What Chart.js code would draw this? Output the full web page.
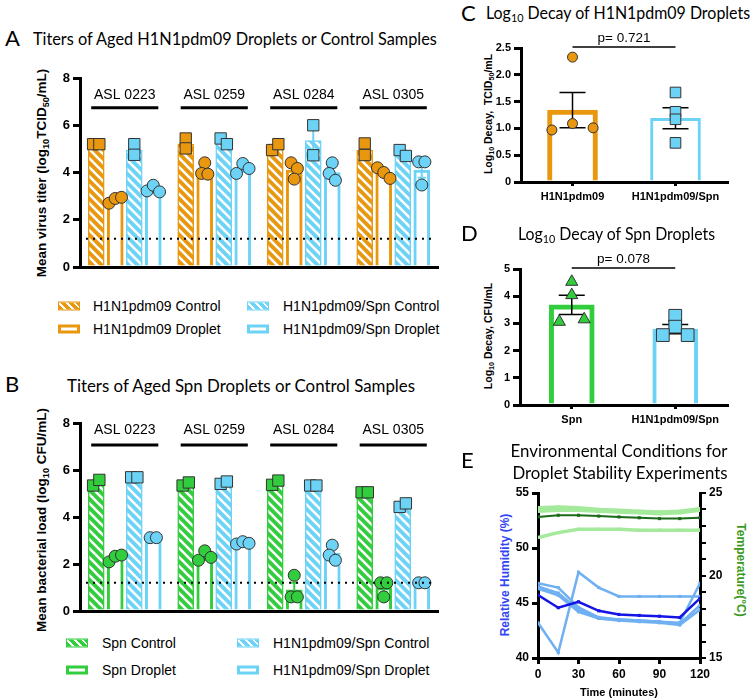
<!DOCTYPE html>
<html>
<head>
<meta charset="utf-8">
<script src="https://cdn.jsdelivr.net/npm/chart.js@4.4.1/dist/chart.umd.min.js"></script>
<style>
  body { margin: 0; background: #fff; }
  #fig { position: relative; width: 756px; height: 700px; overflow: hidden; font-family: "Liberation Sans", Arial, sans-serif; color: #000; }
  canvas { position: absolute; }
  .t { position: absolute; white-space: nowrap; line-height: 1; transform: translateY(-50%); transform-origin: left center; }
  .ttl { font-family: Lato, "Open Sans", sans-serif; font-size: 17px; }
  .lab { font-family: Lato, "Open Sans", sans-serif; font-size: 22px; }
  .ctr { transform: translate(-50%, -50%); transform-origin: center center; }
  .rot { position: absolute; white-space: nowrap; line-height: 1; font-weight: bold; transform: translate(-50%, -50%) rotate(-90deg); }
  .rot90 { transform: translate(-50%, -50%) rotate(90deg); }
  .leg { font-size: 14px; }
  .sw { position: absolute; width: 22px; height: 9px; box-sizing: border-box; transform: translateY(-50%); }
  sub { font-size: 0.68em; vertical-align: -0.3em; line-height: 0; }
</style>
</head>
<body>
<div id="fig">
  <div class="t lab" style="left:5px;top:38px">A</div>
  <div class="t ttl fit" data-w="404" style="left:33px;top:38px">Titers of Aged H1N1pdm09 Droplets or Control Samples</div>
  <div class="rot" style="left:42px;top:173px;font-size:13.5px">Mean virus titer (log<sub>10</sub>TCID<sub>50</sub>/mL)</div>
  <canvas id="chartA" width="450" height="218" style="left:0;top:60px"></canvas>

  <div class="sw" id="swA1" style="left:58px;top:306px"></div>
  <div class="t leg" style="left:93px;top:306px">H1N1pdm09 Control</div>
  <div class="sw" id="swA2" style="left:58px;top:329px"></div>
  <div class="t leg" style="left:93px;top:329px">H1N1pdm09 Droplet</div>
  <div class="sw" id="swA3" style="left:247px;top:306px"></div>
  <div class="t leg" style="left:283px;top:306px">H1N1pdm09/Spn Control</div>
  <div class="sw" id="swA4" style="left:247px;top:329px"></div>
  <div class="t leg" style="left:283px;top:329px">H1N1pdm09/Spn Droplet</div>

  <div class="t lab" style="left:5px;top:384px">B</div>
  <div class="t ttl fit" data-w="348" style="left:67px;top:385px">Titers of Aged Spn Droplets or Control Samples</div>
  <div class="rot" style="left:42px;top:520px;font-size:13.5px">Mean bacterial load (log<sub>10</sub> CFU/mL)</div>
  <canvas id="chartB" width="450" height="217" style="left:0;top:405px"></canvas>

  <div class="sw" id="swB1" style="left:66px;top:643px"></div>
  <div class="t leg" style="left:102px;top:643px">Spn Control</div>
  <div class="sw" id="swB2" style="left:66px;top:670px"></div>
  <div class="t leg" style="left:102px;top:670px">Spn Droplet</div>
  <div class="sw" id="swB3" style="left:237px;top:643px"></div>
  <div class="t leg" style="left:273px;top:643px">H1N1pdm09/Spn Control</div>
  <div class="sw" id="swB4" style="left:237px;top:670px"></div>
  <div class="t leg" style="left:273px;top:670px">H1N1pdm09/Spn Droplet</div>

  <div class="t lab" style="left:461px;top:13px">C</div>
  <div class="t ttl fit" data-w="264" style="left:486px;top:12px">Log<sub>10</sub> Decay of H1N1pdm09 Droplets</div>
  <div class="rot" style="left:488px;top:114px;font-size:10.5px">Log<sub>10</sub> Decay,&nbsp; TCID<sub>50</sub>/mL</div>
  <canvas id="chartC" width="292" height="195" style="left:455px;top:25px"></canvas>

  <div class="t lab" style="left:461px;top:233px">D</div>
  <div class="t ttl fit" data-w="197" style="left:518px;top:233px">Log<sub>10</sub> Decay of Spn Droplets</div>
  <div class="rot" style="left:488px;top:336px;font-size:10.5px">Log<sub>10</sub> Decay, CFU/mL</div>
  <canvas id="chartD" width="292" height="197" style="left:455px;top:248px"></canvas>

  <div class="t lab" style="left:461px;top:460px">E</div>
  <div class="t ttl ctr fit" data-w="217" style="left:619px;top:450px">Environmental Conditions for</div>
  <div class="t ttl ctr fit" data-w="215" style="left:620px;top:472px">Droplet Stability Experiments</div>
  <div class="rot" style="left:505px;top:575px;font-size:12px;color:#3346f5">Relative Humidity (%)</div>
  <div class="rot rot90" style="left:741px;top:570px;font-size:12px;color:#3c9a23">Temperature(°C)</div>
  <canvas id="chartE" width="300" height="220" style="left:455px;top:480px"></canvas>
</div>

<script>
// ---- data ----
const groupLabels = ["ASL 0223", "ASL 0259", "ASL 0284", "ASL 0305"];
const detectionLimit = 1.2;

// panel A: H1N1pdm09 titers (log10 TCID50/mL)
const fluCtrlMeanA = [5.2, 5.2, 5.05, 4.95];
const fluDropMeanA = [2.85, 4.1, 4.1, 4.0];
const coCtrlMeanA = [4.95, 5.3, 5.35, 4.8];
const coDropMeanA = [3.3, 4.15, 4.0, 4.1];
const fluCtrlA = [[5.2, 5.2], [5.44, 5.02], [4.95, 5.2], [5.23, 4.74]];
const fluDropA = [[2.7, 2.9, 2.95], [4.41, 3.96, 3.93], [4.41, 4.17, 3.72], [4.2, 4.0, 3.75]];
const coCtrlA = [[5.2, 4.75], [5.44, 5.2], [6.0, 4.73], [4.95, 4.7]];
const coDropA = [[3.22, 3.46, 3.18], [3.96, 4.38, 4.17], [4.41, 3.96, 3.67], [4.45, 4.45, 3.47]];

// panel B: Spn loads (log10 CFU/mL)
const spnCtrlMeanB = [5.45, 5.4, 5.45, 5.05];
const spnDropMeanB = [2.25, 2.3, 0.9, 1.0];
const coCtrlMeanB = [5.69, 5.45, 5.34, 4.5];
const coDropMeanB = [3.1, 2.9, 2.45, 1.2];
const spnCtrlB = [[5.34, 5.58], [5.34, 5.47], [5.37, 5.55], [5.05, 5.05]];
const spnDropB = [[2.09, 2.33, 2.38], [2.16, 2.56, 2.28], [1.52, 0.6, 0.6], [1.2, 1.2, 0.6]];
const coCtrlB = [[5.69, 5.69], [5.41, 5.51], [5.34, 5.34], [4.43, 4.58]];
const coDropB = [[3.12, 3.12], [2.85, 2.95, 2.88], [2.8, 2.38, 2.16], [1.2, 1.2]];

// panel C
const decayCatsC = ["H1N1pdm09", "H1N1pdm09/Spn"];
const decayMeanC = [1.34, 1.19];
const decayFluC = [2.33, 0.97, 1.09, 1.01];
const decayCoC = [1.67, 1.31, 1.17, 0.73];
const pValueC = "p= 0.721";

// panel D
const decayCatsD = ["Spn", "H1N1pdm09/Spn"];
const decayMeanD = [3.68, 2.79];
const decaySpnD = [4.53, 4.04, 3.06, 3.15];
const decayCoD = [3.28, 2.88, 2.57, 2.57];
const pValueD = "p= 0.078";

// panel E
const timeMin = [0, 15, 30, 45, 60, 75, 90, 105, 120];
const humidityMean = [45.72, 44.57, 45.11, 44.29, 43.96, 43.87, 43.8, 43.68, 45.42];
const humidityRuns = [
  [43.2, 40.5, 47.8, 46.4, 45.6, 45.6, 45.6, 45.6, 45.6],
  [46.8, 46.4, 44.6, 43.7, 43.5, 43.4, 43.3, 43.2, 46.8],
  [46.5, 45.9, 44.4, 43.6, 43.5, 43.4, 43.3, 43.1, 44.8],
  [46.3, 45.7, 44.2, 43.6, 43.4, 43.3, 43.2, 43.0, 44.4]
];
const tempMean = [23.55, 23.65, 23.65, 23.6, 23.55, 23.5, 23.45, 23.45, 23.5];
const tempRuns = [
  [22.3, 22.6, 22.8, 22.8, 22.8, 22.75, 22.75, 22.75, 22.75],
  [24.1, 24.15, 24.1, 24.0, 23.95, 23.9, 23.85, 23.9, 24.05],
  [24.0, 24.05, 24.0, 23.95, 23.9, 23.85, 23.8, 23.85, 24.0],
  [23.9, 23.95, 23.95, 23.9, 23.85, 23.8, 23.75, 23.8, 23.95]
];

// ---- style ----
const ORANGE = "#E8970E";
const CYAN = "#6DD3F6";
const GREEN = "#32CD3C";
const EDGE = "#333";

Chart.defaults.font.family = "'Liberation Sans', Arial, sans-serif";
Chart.defaults.color = "#000";
Chart.defaults.animation = false;
Chart.defaults.plugins.legend.display = false;
Chart.defaults.plugins.tooltip.enabled = false;

function hatch(color) {
  const s = 9;
  const c = document.createElement("canvas");
  c.width = s; c.height = s;
  const g = c.getContext("2d");
  g.fillStyle = color;
  g.fillRect(0, 0, s, s);
  g.strokeStyle = "#fff";
  g.lineWidth = 2.6;
  g.beginPath();
  for (const k of [-s, 0, s]) {
    g.moveTo(k - 1, -1);
    g.lineTo(k + s + 1, s + 1);
  }
  g.stroke();
  return g.createPattern(c, "repeat");
}

function swatch(id, color, hatched) {
  const el = document.getElementById(id);
  if (hatched) {
    el.style.border = `1.5px solid ${color}`;
    el.style.background = `repeating-linear-gradient(45deg, ${color} 0 3.5px, #fff 3.5px 5.5px)`;
  } else {
    el.style.border = `3px solid ${color}`;
    el.style.background = "#fff";
  }
}

// spread replicates that sit at almost the same height
function spread(vals, tol) {
  const order = vals.map((v, i) => i).sort((a, b) => vals[a] - vals[b]);
  const cluster = [];
  let c = 0;
  order.forEach((idx, k) => {
    if (k > 0 && vals[idx] - vals[order[k - 1]] >= tol) c++;
    cluster[idx] = c;
  });
  return vals.map((v, i) => {
    const members = vals.map((_, j) => j).filter((j) => cluster[j] === cluster[i]);
    return members.indexOf(i) - (members.length - 1) / 2;
  });
}

// slot of bar j inside group g, in x-axis units
function slot(g, j, nBars, catPct) {
  return g + (j - (nBars - 1) / 2) * catPct / nBars;
}

function pointsFor(reps, j, nBars, catPct, step, tol) {
  const pts = [];
  reps.forEach((vals, g) => {
    const offs = spread(vals, tol);
    vals.forEach((v, k) => pts.push({ x: slot(g, j, nBars, catPct) + offs[k] * step, y: v }));
  });
  return pts;
}

function barsFor(means, j, nBars, catPct) {
  return means.map((m, g) => ({ x: slot(g, j, nBars, catPct), y: m }));
}

function sem(vals) {
  const n = vals.length;
  const avg = vals.reduce((a, b) => a + b, 0) / n;
  const sd = Math.sqrt(vals.reduce((a, b) => a + (b - avg) ** 2, 0) / (n - 1));
  return sd / Math.sqrt(n);
}

const errorBars = {
  id: "errorBars",
  afterDatasetDraw(chart, args) {
    const ds = chart.data.datasets[args.index];
    if (!ds.reps) return;
    const ctx = chart.ctx;
    const y = chart.scales.y;
    args.meta.data.forEach((bar, i) => {
      const m = ds.data[i].y;
      const e = sem(ds.reps[i]);
      const top = y.getPixelForValue(m + e);
      const bot = y.getPixelForValue(m - e);
      const cap = ds.errCap;
      ctx.save();
      ctx.strokeStyle = ds.errColor;
      ctx.lineWidth = ds.errWidth;
      ctx.beginPath();
      ctx.moveTo(bar.x, top); ctx.lineTo(bar.x, bot);
      ctx.moveTo(bar.x - cap, top); ctx.lineTo(bar.x + cap, top);
      ctx.moveTo(bar.x - cap, bot); ctx.lineTo(bar.x + cap, bot);
      ctx.stroke();
      ctx.restore();
    });
  }
};

const groupMarks = {
  id: "groupMarks",
  afterDatasetsDraw(chart, args, opts) {
    if (!opts || !opts.labels) return;
    const ctx = chart.ctx;
    const x = chart.scales.x;
    const y = chart.scales.y;
    const area = chart.chartArea;
    ctx.save();
    // limit of detection
    ctx.strokeStyle = "#000";
    ctx.lineWidth = 2;
    ctx.setLineDash([2, 5]);
    ctx.beginPath();
    ctx.moveTo(area.left + 6, y.getPixelForValue(opts.limit));
    ctx.lineTo(area.right - 6, y.getPixelForValue(opts.limit));
    ctx.stroke();
    ctx.setLineDash([]);
    // group labels with bars
    ctx.font = "14px 'Liberation Sans', Arial, sans-serif";
    ctx.fillStyle = "#000";
    ctx.textAlign = "center";
    ctx.textBaseline = "middle";
    ctx.lineWidth = 3;
    opts.labels.forEach((lab, i) => {
      ctx.fillText(lab, x.getPixelForValue(i), y.getPixelForValue(opts.labelAt));
      const ly = y.getPixelForValue(opts.lineAt);
      ctx.beginPath();
      ctx.moveTo(x.getPixelForValue(i - 0.375), ly);
      ctx.lineTo(x.getPixelForValue(i + 0.375), ly);
      ctx.stroke();
    });
    ctx.restore();
  }
};

const bracket = {
  id: "bracket",
  afterDraw(chart, args, opts) {
    if (!opts || !opts.text) return;
    const ctx = chart.ctx;
    const x = chart.scales.x;
    const y = chart.scales.y;
    const x0 = x.getPixelForValue(0);
    const x1 = x.getPixelForValue(1);
    const yy = y.getPixelForValue(y.max) - 1;
    ctx.save();
    ctx.strokeStyle = "#000";
    ctx.lineWidth = 1.5;
    ctx.beginPath();
    ctx.moveTo(x0, yy); ctx.lineTo(x1, yy);
    ctx.stroke();
    ctx.font = "13.5px 'Liberation Sans', Arial, sans-serif";
    ctx.fillStyle = "#000";
    ctx.textAlign = "center";
    ctx.textBaseline = "bottom";
    ctx.fillText(opts.text, (x0 + x1) / 2, yy - 2);
    ctx.restore();
  }
};

function yAxis(max, step, width, size) {
  return {
    min: 0, max: max,
    ticks: { stepSize: step, font: { size: size, weight: "bold" }, color: "#000", padding: 3 },
    grid: { display: true, drawOnChartArea: false, drawTicks: true, tickLength: 7, lineWidth: 3, color: "#000" },
    border: { display: true, width: 3, color: "#000" },
    afterFit(s) { s.width = width; }
  };
}

function groupChart(id, series, marks, pad) {
  const catPct = 0.85;
  const nb = series.length;
  const datasets = [];
  series.forEach((s, j) => {
    datasets.push({
      type: "bar",
      label: s.label,
      data: barsFor(s.means, j, nb, catPct),
      reps: s.reps,
      grouped: false,
      backgroundColor: s.hatched ? hatch(s.color) : "#fff",
      borderColor: s.color,
      borderWidth: s.hatched ? 1.5 : 3,
      errColor: s.color, errWidth: 2, errCap: 4,
      categoryPercentage: 1,
      barPercentage: 1,
      maxBarThickness: 16,
      order: 2
    });
  });
  series.forEach((s, j) => {
    datasets.push({
      type: "scatter",
      label: s.label,
      data: pointsFor(s.reps, j, nb, catPct, 0.07, 0.3),
      pointStyle: s.hatched ? "rect" : "circle",
      pointRadius: s.hatched ? 8 : 6,
      pointBackgroundColor: s.color,
      pointBorderColor: EDGE,
      pointBorderWidth: 1,
      order: 1
    });
  });
  return new Chart(document.getElementById(id), {
    type: "bar",
    data: { datasets: datasets },
    options: {
      responsive: false,
      layout: { padding: pad },
      plugins: { groupMarks: marks },
      scales: {
        x: {
          type: "linear", min: -0.5, max: 3.5, offset: false,
          ticks: { display: false },
          grid: { display: false, offset: false },
          border: { display: true, width: 3, color: "#000" },
          afterFit(s) { s.height = 0; }
        },
        y: yAxis(8, 2, 80, 13)
      }
    },
    plugins: [errorBars, groupMarks]
  });
}

groupChart("chartA", [
  { label: "H1N1pdm09 Control", means: fluCtrlMeanA, reps: fluCtrlA, color: ORANGE, hatched: true },
  { label: "H1N1pdm09 Droplet", means: fluDropMeanA, reps: fluDropA, color: ORANGE, hatched: false },
  { label: "H1N1pdm09/Spn Control", means: coCtrlMeanA, reps: coCtrlA, color: CYAN, hatched: true },
  { label: "H1N1pdm09/Spn Droplet", means: coDropMeanA, reps: coDropA, color: CYAN, hatched: false }
], { labels: groupLabels, labelAt: 7.28, lineAt: 6.74, limit: detectionLimit }, { top: 18, right: 12, bottom: 11, left: 0 });

groupChart("chartB", [
  { label: "Spn Control", means: spnCtrlMeanB, reps: spnCtrlB, color: GREEN, hatched: true },
  { label: "Spn Droplet", means: spnDropMeanB, reps: spnDropB, color: GREEN, hatched: false },
  { label: "H1N1pdm09/Spn Control", means: coCtrlMeanB, reps: coCtrlB, color: CYAN, hatched: true },
  { label: "H1N1pdm09/Spn Droplet", means: coDropMeanB, reps: coDropB, color: CYAN, hatched: false }
], { labels: groupLabels, labelAt: 7.7, lineAt: 7.06, limit: detectionLimit }, { top: 18, right: 12, bottom: 11, left: 0 });

function decayChart(id, cats, means, reps, colors, borders, marker, yMax, yStep, yWidth, pad, step, tol, pText, barW) {
  const datasets = [{
    type: "bar",
    data: barsFor(means, 0, 1, 1),
    reps: reps,
    grouped: false,
    backgroundColor: "#fff",
    borderColor: colors,
    borderWidth: borders,
    errColor: "#000", errWidth: 1.5, errCap: 13,
    categoryPercentage: 1,
    barPercentage: 1,
    maxBarThickness: barW,
    order: 2
  }];
  reps.forEach((vals, g) => {
    datasets.push({
      type: "scatter",
      data: pointsFor([vals], 0, 1, 1, step, tol).map((p) => ({ x: p.x + g, y: p.y })),
      pointStyle: marker[g].style,
      pointRadius: marker[g].r,
      pointBackgroundColor: colors[g],
      pointBorderColor: EDGE,
      pointBorderWidth: 1,
      order: 1
    });
  });
  return new Chart(document.getElementById(id), {
    type: "bar",
    data: { datasets: datasets },
    options: {
      responsive: false,
      layout: { padding: pad },
      plugins: { bracket: { text: pText } },
      scales: {
        x: {
          type: "linear", min: -0.5, max: 1.5, offset: false,
          afterBuildTicks(s) { s.ticks = cats.map((c, i) => ({ value: i })); },
          ticks: { font: { size: 11, weight: "bold" }, color: "#000", padding: 4, autoSkip: false,
            callback: (v) => cats[v] },
          grid: { display: true, offset: false, drawOnChartArea: false, drawTicks: true, tickLength: 4, lineWidth: 3, color: "#000" },
          border: { display: true, width: 3, color: "#000" },
          afterFit(s) { s.height = pad.xh; }
        },
        y: yAxis(yMax, yStep, yWidth, 11)
      }
    },
    plugins: [errorBars, bracket]
  });
}

decayChart("chartC", decayCatsC, decayMeanC, [decayFluC, decayCoC], [ORANGE, CYAN], [5, 3],
  [{ style: "circle", r: 5 }, { style: "rect", r: 7.5 }], 2.5, 0.5, 66,
  { top: 23, right: 20, bottom: 0, left: 0, xh: 38 }, 0.2, 0.13, pValueC, 50);

decayChart("chartD", decayCatsD, decayMeanD, [decaySpnD, decayCoD], [GREEN, CYAN], [5, 4],
  [{ style: "triangle", r: 7 }, { style: "rect", r: 9 }], 5, 1, 65,
  { top: 21, right: 20, bottom: 0, left: 0, xh: 40 }, 0.24, 0.3, pValueD, 45);

// panel E
function series(vals) {
  return vals.map((v, i) => ({ x: timeMin[i], y: v }));
}
const envSets = [];
envSets.push({ data: series(humidityMean), yAxisID: "yH", borderColor: "#1414e6", backgroundColor: "#1414e6", borderWidth: 2.5, pointRadius: 2.2, order: 0 });
envSets.push({ data: series(tempMean), yAxisID: "yT", borderColor: "#1b6a18", backgroundColor: "#1b6a18", borderWidth: 2, pointRadius: 2.2, order: 0 });
humidityRuns.forEach((run) => envSets.push({ data: series(run), yAxisID: "yH", borderColor: "#6fb0f2", backgroundColor: "#6fb0f2", borderWidth: 2.5, pointRadius: 2.2, order: 1 }));
tempRuns.forEach((run) => envSets.push({ data: series(run), yAxisID: "yT", borderColor: "#a5ea9c", backgroundColor: "#a5ea9c", borderWidth: 3.5, pointRadius: 2.2, order: 2 }));
envSets.forEach((d) => { d.pointStyle = "rect"; d.pointBorderWidth = 0; d.tension = 0; });

new Chart(document.getElementById("chartE"), {
  type: "line",
  data: { datasets: envSets },
  options: {
    responsive: false,
    layout: { padding: { top: 13, right: 0, bottom: 0, left: 0 } },
    scales: {
      x: {
        type: "linear", min: 0, max: 120,
        ticks: { stepSize: 30, font: { size: 12, weight: "bold" }, color: "#000", padding: 3 },
        grid: { display: true, drawOnChartArea: false, drawTicks: true, tickLength: 6, lineWidth: 3, color: "#000" },
        border: { display: true, width: 3, color: "#000" },
        title: { display: true, text: "Time (minutes)", font: { size: 11, weight: "bold" }, color: "#000", padding: 0 },
        afterFit(s) { s.height = 42; }
      },
      yH: {
        position: "left", min: 40, max: 55,
        ticks: { stepSize: 5, font: { size: 12, weight: "bold" }, color: "#000", padding: 3 },
        grid: { display: true, drawOnChartArea: false, drawTicks: true, tickLength: 6, lineWidth: 3, color: "#000" },
        border: { display: true, width: 3, color: "#000" },
        afterFit(s) { s.width = 83; }
      },
      yT: {
        position: "right", min: 15, max: 25,
        ticks: { stepSize: 1, autoSkip: false, font: { size: 12, weight: "bold" }, color: "#000", padding: 3,
          callback: (v) => (v % 5 === 0 ? String(v) : "") },
        grid: { display: true, drawOnChartArea: false, drawTicks: true, tickLength: 6, lineWidth: 2, color: "#000" },
        border: { display: true, width: 3, color: "#000" },
        afterFit(s) { s.width = 55; }
      }
    }
  }
});

swatch("swA1", ORANGE, true);
swatch("swA2", ORANGE, false);
swatch("swA3", CYAN, true);
swatch("swA4", CYAN, false);
swatch("swB1", GREEN, true);
swatch("swB2", GREEN, false);
swatch("swB3", CYAN, true);
swatch("swB4", CYAN, false);

// squeeze titles to the widths of the original lettering
document.querySelectorAll(".fit").forEach((el) => {
  const w = el.getBoundingClientRect().width;
  const k = Number(el.dataset.w) / w;
  const base = el.classList.contains("ctr") ? "translate(-50%, -50%)" : "translateY(-50%)";
  el.style.transform = `${base} scaleX(${k.toFixed(3)})`;
});
</script>
</body>
</html>
